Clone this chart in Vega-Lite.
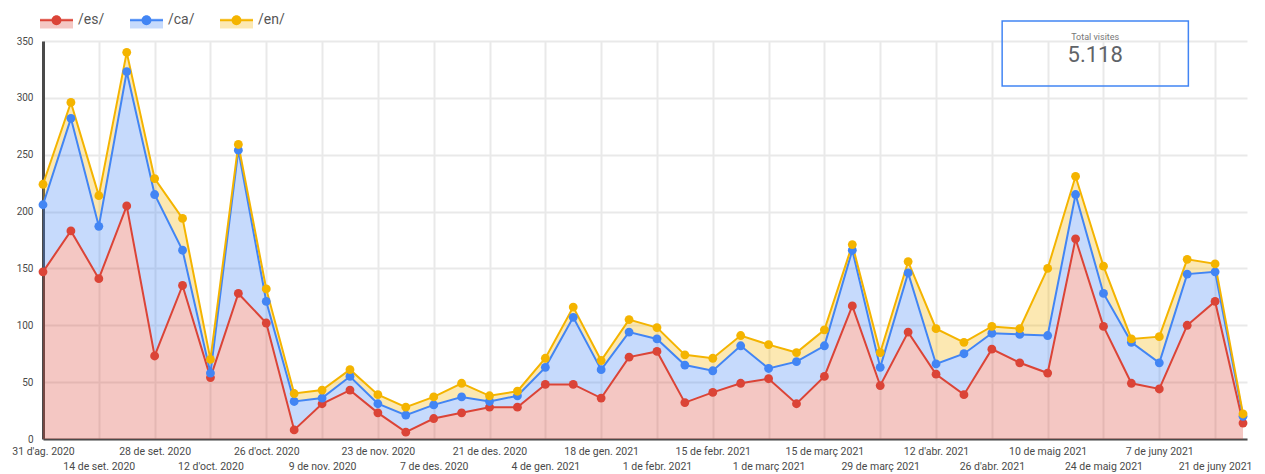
{
  "$schema": "https://vega.github.io/schema/vega-lite/v6.json",
  "width": 1204,
  "height": 398,
  "autosize": {"type": "none"},
  "padding": {"left": 43, "top": 41, "right": 18, "bottom": 35},
  "background": "white",
  "config": {
    "font": "Roboto",
    "view": {"stroke": null},
    "axis": {"gridColor": "#e9e9e9", "gridWidth": 2, "ticks": false, "labelColor": "#4a4a4a", "domainColor": "#4a4a4a"}
  },
  "layer": [
    {
      "data": {"values": [
        {"week":"2020/08/31","series":"/es/","visits":147},{"week":"2020/08/31","series":"/ca/","visits":59},{"week":"2020/08/31","series":"/en/","visits":18},
        {"week":"2020/09/07","series":"/es/","visits":183},{"week":"2020/09/07","series":"/ca/","visits":99},{"week":"2020/09/07","series":"/en/","visits":14},
        {"week":"2020/09/14","series":"/es/","visits":141},{"week":"2020/09/14","series":"/ca/","visits":46},{"week":"2020/09/14","series":"/en/","visits":27},
        {"week":"2020/09/21","series":"/es/","visits":205},{"week":"2020/09/21","series":"/ca/","visits":118},{"week":"2020/09/21","series":"/en/","visits":17},
        {"week":"2020/09/28","series":"/es/","visits":73},{"week":"2020/09/28","series":"/ca/","visits":142},{"week":"2020/09/28","series":"/en/","visits":14},
        {"week":"2020/10/05","series":"/es/","visits":135},{"week":"2020/10/05","series":"/ca/","visits":31},{"week":"2020/10/05","series":"/en/","visits":28},
        {"week":"2020/10/12","series":"/es/","visits":54},{"week":"2020/10/12","series":"/ca/","visits":4},{"week":"2020/10/12","series":"/en/","visits":12},
        {"week":"2020/10/19","series":"/es/","visits":128},{"week":"2020/10/19","series":"/ca/","visits":126},{"week":"2020/10/19","series":"/en/","visits":5},
        {"week":"2020/10/26","series":"/es/","visits":102},{"week":"2020/10/26","series":"/ca/","visits":19},{"week":"2020/10/26","series":"/en/","visits":11},
        {"week":"2020/11/02","series":"/es/","visits":8},{"week":"2020/11/02","series":"/ca/","visits":25},{"week":"2020/11/02","series":"/en/","visits":7},
        {"week":"2020/11/09","series":"/es/","visits":31},{"week":"2020/11/09","series":"/ca/","visits":5},{"week":"2020/11/09","series":"/en/","visits":7},
        {"week":"2020/11/16","series":"/es/","visits":43},{"week":"2020/11/16","series":"/ca/","visits":12},{"week":"2020/11/16","series":"/en/","visits":6},
        {"week":"2020/11/23","series":"/es/","visits":23},{"week":"2020/11/23","series":"/ca/","visits":8},{"week":"2020/11/23","series":"/en/","visits":8},
        {"week":"2020/11/30","series":"/es/","visits":6},{"week":"2020/11/30","series":"/ca/","visits":15},{"week":"2020/11/30","series":"/en/","visits":7},
        {"week":"2020/12/07","series":"/es/","visits":18},{"week":"2020/12/07","series":"/ca/","visits":12},{"week":"2020/12/07","series":"/en/","visits":7},
        {"week":"2020/12/14","series":"/es/","visits":23},{"week":"2020/12/14","series":"/ca/","visits":14},{"week":"2020/12/14","series":"/en/","visits":12},
        {"week":"2020/12/21","series":"/es/","visits":28},{"week":"2020/12/21","series":"/ca/","visits":5},{"week":"2020/12/21","series":"/en/","visits":5},
        {"week":"2020/12/28","series":"/es/","visits":28},{"week":"2020/12/28","series":"/ca/","visits":10},{"week":"2020/12/28","series":"/en/","visits":4},
        {"week":"2021/01/04","series":"/es/","visits":48},{"week":"2021/01/04","series":"/ca/","visits":15},{"week":"2021/01/04","series":"/en/","visits":8},
        {"week":"2021/01/11","series":"/es/","visits":48},{"week":"2021/01/11","series":"/ca/","visits":59},{"week":"2021/01/11","series":"/en/","visits":9},
        {"week":"2021/01/18","series":"/es/","visits":36},{"week":"2021/01/18","series":"/ca/","visits":25},{"week":"2021/01/18","series":"/en/","visits":8},
        {"week":"2021/01/25","series":"/es/","visits":72},{"week":"2021/01/25","series":"/ca/","visits":22},{"week":"2021/01/25","series":"/en/","visits":11},
        {"week":"2021/02/01","series":"/es/","visits":77},{"week":"2021/02/01","series":"/ca/","visits":11},{"week":"2021/02/01","series":"/en/","visits":10},
        {"week":"2021/02/08","series":"/es/","visits":32},{"week":"2021/02/08","series":"/ca/","visits":33},{"week":"2021/02/08","series":"/en/","visits":9},
        {"week":"2021/02/15","series":"/es/","visits":41},{"week":"2021/02/15","series":"/ca/","visits":19},{"week":"2021/02/15","series":"/en/","visits":11},
        {"week":"2021/02/22","series":"/es/","visits":49},{"week":"2021/02/22","series":"/ca/","visits":33},{"week":"2021/02/22","series":"/en/","visits":9},
        {"week":"2021/03/01","series":"/es/","visits":53},{"week":"2021/03/01","series":"/ca/","visits":9},{"week":"2021/03/01","series":"/en/","visits":21},
        {"week":"2021/03/08","series":"/es/","visits":31},{"week":"2021/03/08","series":"/ca/","visits":37},{"week":"2021/03/08","series":"/en/","visits":8},
        {"week":"2021/03/15","series":"/es/","visits":55},{"week":"2021/03/15","series":"/ca/","visits":27},{"week":"2021/03/15","series":"/en/","visits":14},
        {"week":"2021/03/22","series":"/es/","visits":117},{"week":"2021/03/22","series":"/ca/","visits":49},{"week":"2021/03/22","series":"/en/","visits":5},
        {"week":"2021/03/29","series":"/es/","visits":47},{"week":"2021/03/29","series":"/ca/","visits":16},{"week":"2021/03/29","series":"/en/","visits":13},
        {"week":"2021/04/05","series":"/es/","visits":94},{"week":"2021/04/05","series":"/ca/","visits":52},{"week":"2021/04/05","series":"/en/","visits":10},
        {"week":"2021/04/12","series":"/es/","visits":57},{"week":"2021/04/12","series":"/ca/","visits":9},{"week":"2021/04/12","series":"/en/","visits":31},
        {"week":"2021/04/19","series":"/es/","visits":39},{"week":"2021/04/19","series":"/ca/","visits":36},{"week":"2021/04/19","series":"/en/","visits":10},
        {"week":"2021/04/26","series":"/es/","visits":79},{"week":"2021/04/26","series":"/ca/","visits":14},{"week":"2021/04/26","series":"/en/","visits":6},
        {"week":"2021/05/03","series":"/es/","visits":67},{"week":"2021/05/03","series":"/ca/","visits":25},{"week":"2021/05/03","series":"/en/","visits":5},
        {"week":"2021/05/10","series":"/es/","visits":58},{"week":"2021/05/10","series":"/ca/","visits":33},{"week":"2021/05/10","series":"/en/","visits":59},
        {"week":"2021/05/17","series":"/es/","visits":176},{"week":"2021/05/17","series":"/ca/","visits":39},{"week":"2021/05/17","series":"/en/","visits":16},
        {"week":"2021/05/24","series":"/es/","visits":99},{"week":"2021/05/24","series":"/ca/","visits":29},{"week":"2021/05/24","series":"/en/","visits":24},
        {"week":"2021/05/31","series":"/es/","visits":49},{"week":"2021/05/31","series":"/ca/","visits":36},{"week":"2021/05/31","series":"/en/","visits":3},
        {"week":"2021/06/07","series":"/es/","visits":44},{"week":"2021/06/07","series":"/ca/","visits":23},{"week":"2021/06/07","series":"/en/","visits":23},
        {"week":"2021/06/14","series":"/es/","visits":100},{"week":"2021/06/14","series":"/ca/","visits":45},{"week":"2021/06/14","series":"/en/","visits":13},
        {"week":"2021/06/21","series":"/es/","visits":121},{"week":"2021/06/21","series":"/ca/","visits":26},{"week":"2021/06/21","series":"/en/","visits":7},
        {"week":"2021/06/28","series":"/es/","visits":14},{"week":"2021/06/28","series":"/ca/","visits":6},{"week":"2021/06/28","series":"/en/","visits":2}
      ]},
      "transform": [
        {"calculate": "indexof(['/es/','/ca/','/en/'], datum.series)", "as": "ord"},
        {"stack": "visits", "groupby": ["week"], "sort": [{"field": "ord", "order": "ascending"}], "as": ["v0", "v1"]}
      ],
      "resolve": {"scale": {"color": "independent"}, "legend": {"color": "independent"}},
      "layer": [
        {
          "mark": {"type": "area", "opacity": 0.3},
          "encoding": {
            "x": {
              "field": "week", "type": "temporal",
              "scale": {"domain": [{"year": 2020, "month": 8, "date": 31}, {"year": 2021, "month": 6, "date": 29}]},
              "axis": {
                "title": null,
                "values": [
                  {"year":2020,"month":8,"date":31},{"year":2020,"month":9,"date":14},{"year":2020,"month":9,"date":28},
                  {"year":2020,"month":10,"date":12},{"year":2020,"month":10,"date":26},{"year":2020,"month":11,"date":9},
                  {"year":2020,"month":11,"date":23},{"year":2020,"month":12,"date":7},{"year":2020,"month":12,"date":21},
                  {"year":2021,"month":1,"date":4},{"year":2021,"month":1,"date":18},{"year":2021,"month":2,"date":1},
                  {"year":2021,"month":2,"date":15},{"year":2021,"month":3,"date":1},{"year":2021,"month":3,"date":15},
                  {"year":2021,"month":3,"date":29},{"year":2021,"month":4,"date":12},{"year":2021,"month":4,"date":26},
                  {"year":2021,"month":5,"date":10},{"year":2021,"month":5,"date":24},{"year":2021,"month":6,"date":7},
                  {"year":2021,"month":6,"date":21}
                ],
                "labelExpr": "(round((datum.value - datetime(2020,7,31)) / 604800000) / 2) % 2 == 1 ? ['', date(datum.value) + ' ' + [\"de gen.\",\"de febr.\",\"de març\",\"d'abr.\",\"de maig\",\"de juny\",\"de jul.\",\"d'ag.\",\"de set.\",\"d'oct.\",\"de nov.\",\"de des.\"][month(datum.value)] + ' ' + year(datum.value)] : date(datum.value) + ' ' + [\"de gen.\",\"de febr.\",\"de març\",\"d'abr.\",\"de maig\",\"de juny\",\"de jul.\",\"d'ag.\",\"de set.\",\"d'oct.\",\"de nov.\",\"de des.\"][month(datum.value)] + ' ' + year(datum.value)",
                "labelAngle": 0,
                "labelAlign": "center",
                "labelBaseline": "top",
                "labelLineHeight": 15,
                "labelPadding": 7,
                "labelFontSize": 10.5,
                "labelOverlap": false,
                "labelFlush": false,
                "labelBound": false,
                "domainWidth": 2,
                "grid": true
              }
            },
            "y": {
              "field": "v1", "type": "quantitative",
              "scale": {"domain": [0, 350], "nice": false},
              "axis": {
                "title": null,
                "values": [0, 25, 50, 75, 100, 125, 150, 175, 200, 225, 250, 275, 300, 325, 350],
                "labelExpr": "datum.value % 50 == 0 ? datum.label : ''",
                "labelPadding": 10,
                "labelFontSize": 10,
                "labelFlush": false,
                "domainWidth": 3,
                "grid": true
              }
            },
            "y2": {"field": "v0"},
            "color": {
              "field": "series", "type": "nominal",
              "scale": {"domain": ["/es/", "/ca/", "/en/"], "range": ["#db4437", "#4285f4", "#f4b400"]},
              "legend": {
                "orient": "none", "legendX": -3, "legendY": -37.5, "direction": "horizontal", "title": null,
                "padding": 0,
                "symbolType": "M-1,-0.1H1V0.5H-1Z", "symbolSize": 1089, "symbolOpacity": 0.3, "symbolStrokeWidth": 0,
                "labelOpacity": 0, "labelFontSize": 14, "labelOffset": 5, "columnPadding": 25
              }
            }
          }
        },
        {
          "mark": {"type": "line", "strokeWidth": 2},
          "encoding": {
            "x": {"field": "week", "type": "temporal"},
            "y": {"field": "v1", "type": "quantitative"},
            "color": {
              "field": "series", "type": "nominal",
              "scale": {"domain": ["/es/", "/ca/", "/en/"], "range": ["#db4437", "#4285f4", "#f4b400"]},
              "legend": null
            }
          }
        },
        {
          "mark": {"type": "circle", "size": 78, "opacity": 1},
          "encoding": {
            "x": {"field": "week", "type": "temporal"},
            "y": {"field": "v1", "type": "quantitative"},
            "color": {
              "field": "series", "type": "nominal",
              "scale": {"domain": ["/es/", "/ca/", "/en/"], "range": ["#db4437", "#4285f4", "#f4b400"]},
              "legend": {
                "orient": "none", "legendX": -3, "legendY": -37.5, "direction": "horizontal", "title": null,
                "padding": 0,
                "symbolType": "M-1,-0.06H1V0.06H-1Z M0.3,0A0.3,0.3 0 1,1 -0.3,0A0.3,0.3 0 1,1 0.3,0Z",
                "symbolSize": 1089, "symbolOpacity": 1, "symbolStrokeWidth": 0,
                "labelColor": "#555555", "labelFontSize": 14, "labelOffset": 5, "columnPadding": 25
              }
            }
          }
        }
      ]
    },
    {
      "data": {"values": [{}]},
      "mark": {"type": "rect", "fill": null, "fillOpacity": 0, "stroke": "#4285f4", "strokeWidth": 1.5},
      "encoding": {
        "x": {"datum": {"year": 2021, "month": 4, "date": 28, "hours": 14}, "type": "temporal", "title": null},
        "x2": {"datum": {"year": 2021, "month": 6, "date": 14, "hours": 7}},
        "y": {"datum": 367.6, "type": "quantitative", "title": null},
        "y2": {"datum": 310.4}
      }
    },
    {
      "data": {"values": [{}]},
      "mark": {"type": "text", "text": "Total visites", "fontSize": 9, "color": "#777777", "align": "center", "baseline": "middle"},
      "encoding": {
        "x": {"datum": {"year": 2021, "month": 5, "date": 21, "hours": 22}, "type": "temporal", "title": null},
        "y": {"datum": 353.5, "type": "quantitative", "title": null}
      }
    },
    {
      "data": {"values": [{}]},
      "mark": {"type": "text", "text": "5.118", "fontSize": 22, "fontWeight": "normal", "color": "#5f6368", "align": "center", "baseline": "middle"},
      "encoding": {
        "x": {"datum": {"year": 2021, "month": 5, "date": 21, "hours": 22}, "type": "temporal", "title": null},
        "y": {"datum": 337.7, "type": "quantitative", "title": null}
      }
    }
  ]
}
